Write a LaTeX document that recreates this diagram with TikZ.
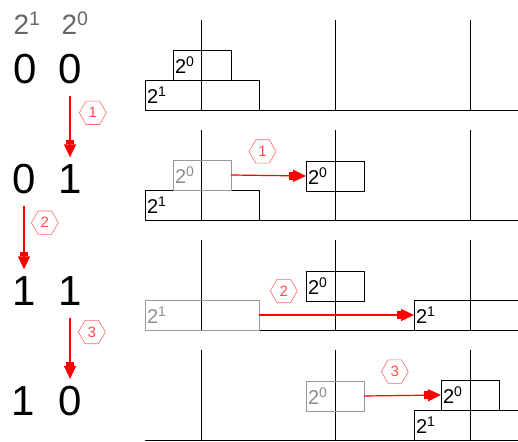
\documentclass[tikz,border=0pt]{standalone}
\usepackage{fontspec}
\setmainfont{Liberation Sans}
\usetikzlibrary{positioning}
\usetikzlibrary{arrows.meta}
\usetikzlibrary{shapes.geometric}

\tikzset{
    peg/.style={line width=0.8pt},
    disk/.style={draw, line width=0.8pt, minimum height=30pt, inner xsep=2pt, inner ysep=0pt,
        outer sep=0pt, align=left, anchor=south, font=\fontsize{20}{20}\selectfont},
    bigdisk/.style={disk, text width=110pt},
    smalldisk/.style={disk, text width=54pt},
    ghost/.style={draw=black!40, text=black!45},
    move/.style={draw=red, fill=red, line width=1.2pt,
        -{Rectangle[length=4pt,width=8pt] Triangle[length=13pt,width=12pt]}},
    vmove/.style={move, shorten <=10pt, shorten >=5pt},
    movelbl/.style={regular polygon, regular polygon sides=6, draw=red!60, fill=none, text=red!70,
        line width=0.6pt, inner sep=0pt, minimum size=27pt, font=\fontsize{15}{15}\selectfont},
    bit/.style={inner sep=2pt, font=\fontsize{42}{42}\selectfont},
    weight/.style={text=black!60, font=\fontsize{28}{28}\selectfont}
}

\begin{document}
\begin{tikzpicture}[x=1pt,y=-1pt]
    \clip (0,0) rectangle (518,441);

    % pegs and base lines
    \foreach \r/\yb in {1/110,2/220,3/330,4/440}{
        \draw[peg] (145,\yb) -- (518,\yb);
        \foreach \xp in {201,335,470}
            \draw[peg] (\xp,\yb) -- ++(0,-90);
    }

    % binary counter
    \node[weight] (w1) at (27,23) {2\textsuperscript{1}};
    \node[weight] (w0) at (75,23) {2\textsuperscript{0}};

    \node[bit] (b1a) at (25,69) {0};
    \node[bit] (b1b) at (70,69) {0};
    \node[bit] (b2a) at (24,179) {0};
    \node[bit] (b2b) at (70,179) {1};
    \node[bit] (b3a) at (24,291) {1};
    \node[bit] (b3b) at (70,291) {1};
    \node[bit] (b4a) at (23,401) {1};
    \node[bit] (b4b) at (70,401) {0};

    \draw[vmove] (b1b) -- node[movelbl, pos=0.35, right=9pt] (m1) {1} (b2b);
    \draw[vmove] (b2a) -- node[movelbl, pos=0.34, right=7pt] (m2) {2} (b3a);
    \draw[vmove] (b3b) -- node[movelbl, pos=0.32, right=8pt] (m3) {3} (b4b);

    % row 1
    \node[bigdisk] (d1big) at (202,110) {2\textsuperscript{1}};
    \node[smalldisk, above=0pt of d1big] (d1small) {2\textsuperscript{0}};

    % row 2
    \node[bigdisk] (d2big) at (202,220) {2\textsuperscript{1}};
    \node[smalldisk, ghost, above=0pt of d2big] (g2small) {2\textsuperscript{0}};
    \node[smalldisk] (d2small) at (335,191) {2\textsuperscript{0}};
    \draw[move] (g2small.east) -- node[movelbl, pos=0.42, above=12pt] (h1) {1} (d2small.west);

    % row 3
    \node[bigdisk, ghost] (g3big) at (202,330) {2\textsuperscript{1}};
    \node[smalldisk] (d3small) at (335,301) {2\textsuperscript{0}};
    \node[bigdisk] (d3big) at (471,330) {2\textsuperscript{1}};
    \draw[move] (g3big.east) -- node[movelbl, pos=0.16, above=12pt] (h2) {2} (d3big.west);

    % row 4
    \node[smalldisk, ghost] (g4small) at (335,411) {2\textsuperscript{0}};
    \node[bigdisk] (d4big) at (471,440) {2\textsuperscript{1}};
    \node[smalldisk, above=0pt of d4big, xshift=-1pt] (d4small) {2\textsuperscript{0}};
    \draw[move] (g4small.east) -- node[movelbl, pos=0.4, above=12pt] (h3) {3} (d4small.west);
\end{tikzpicture}
\end{document}
